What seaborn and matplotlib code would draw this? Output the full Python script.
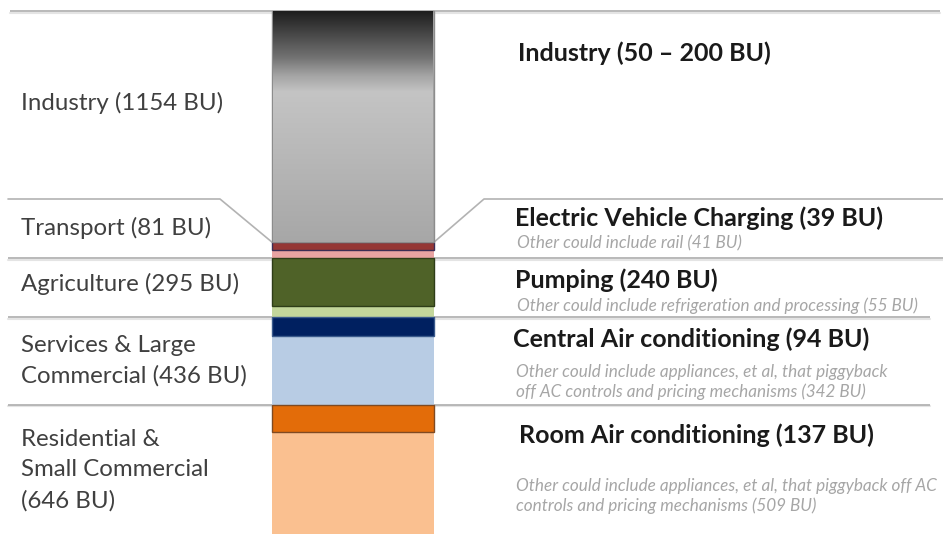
import numpy as np
import pandas as pd
import seaborn as sns
import matplotlib.pyplot as plt
from matplotlib.colors import LinearSegmentedColormap

# segments, bottom to top
segments = ["Other residential", "Room Air conditioning", "Other services",
            "Central Air conditioning", "Other agriculture", "Pumping",
            "Other transport", "Electric Vehicle Charging", "Industry"]
values = [509, 137, 342, 94, 55, 240, 41, 39, 1154]
colors = ["#fac090", "#e36c09", "#b8cce4", "#002060", "#c3d69b", "#4f6228",
          "#e8a3a2", "#953735", "#a6a6a6"]
edges = [None, "#7f4a22", None, "#3a5a8c", None, "#2e3d18", None, "#3b2d55", "#8c8c8c"]

left_labels = ["Residential &\nSmall Commercial\n(646 BU)",
               "Services & Large\nCommercial (436 BU)",
               "Agriculture (295 BU)", "Transport (81 BU)", "Industry (1154 BU)"]
right_labels = ["Room Air conditioning (137 BU)", "Central Air conditioning (94 BU)",
                "Pumping (240 BU)", "Electric Vehicle Charging (39 BU)",
                "Industry (50 \u2013 200 BU)"]
other_labels = ["Other could include appliances, et al, that piggyback off AC\ncontrols and pricing mechanisms (509 BU)",
                "Other could include appliances, et al, that piggyback\noff AC controls and pricing mechanisms (342 BU)",
                "Other could include refrigeration and processing (55 BU)",
                "Other could include rail (41 BU)"]

W, H = 943, 534
sns.set_theme(style="white")
plt.rcParams['font.family'] = ['Lato', 'DejaVu Sans']

fig = plt.figure(figsize=(W / 100, H / 100), dpi=100)
ax = fig.add_axes([0, 0, 1, 1])

df = pd.DataFrame({"segment": segments, "value": values})
df["top"] = df["value"].cumsum()
df["bottom"] = df["top"] - df["value"]
total = df["top"].iloc[-1]

# stacked bar: one seaborn bar per segment, then moved onto its base
for i in range(len(df)):
    ec = edges[i] if edges[i] else "none"
    lw = 1.0 if edges[i] else 0
    n = len(ax.patches)
    sns.barplot(x=["mix"], y=[df["value"].iloc[i]], color=colors[i], saturation=1,
                width=0.8, edgecolor=ec, linewidth=lw, errorbar=None, ax=ax)
    for p in ax.patches[n:]:
        p.set_y(df["bottom"].iloc[i])
        p.set_zorder(3 + (0.5 if edges[i] else 0))

# gradient fill on the industry block
ind_bottom = df["bottom"].iloc[-1]
grad = LinearSegmentedColormap.from_list(
    "ind", [(0, "#1e1e1e"), (0.2, "#727272"), (0.28, "#a5a5a5"),
            (0.35, "#c4c4c4"), (1, "#a7a7a7")])
ax.imshow(np.linspace(0, 1, 256).reshape(-1, 1), cmap=grad, aspect="auto",
          extent=(-0.395, 0.395, ind_bottom + 2, total), origin="upper", zorder=4)

px_per_unit = 202.5
cx = 353
ax.set_xlim(-cx / px_per_unit, (W - cx) / px_per_unit)
ax.set_ylim(0, total * H / 523)
ax.axis("off")


def xd(px):
    return (px - cx) / px_per_unit


def yd(py):
    return (H - py) * total / 523


def hline(x0, x1, y):
    ax.plot([xd(x0), xd(x1)], [y, y], color="#b3b3b3", lw=1.3, zorder=1,
            solid_capstyle="butt")
    ax.plot([xd(x0), xd(x1)], [y - 8, y - 8], color="#e4e4e4", lw=1.5, zorder=0.9)


# separator lines
hline(10, 940, total)
label_y = yd(199)
ax.plot([xd(8), xd(220), xd(272)], [label_y, label_y, ind_bottom], color="#b3b3b3", lw=1.2, zorder=1)
ax.plot([xd(434), xd(484), xd(943)], [ind_bottom, label_y, label_y], color="#b3b3b3", lw=1.2, zorder=1)
for b, xr in [(df["top"].iloc[5], 943), (df["top"].iloc[3], 930), (df["top"].iloc[1], 930)]:
    hline(8, xr, b)


def ftext(px, py, s, **kw):
    fig.text(px / W, 1 - py / H, s, va="center", ha="left", **kw)


# left labels
left_pos = [(21, 470), (21, 361), (21, 284), (21, 228), (21, 103)]
for (px, py), s in zip(left_pos, left_labels):
    ftext(px, py, s, fontsize=17.3, color="#404040", linespacing=1.55)

# right labels
right_pos = [(519, 435), (513, 339), (515, 280), (515, 218), (518, 53)]
for (px, py), s in zip(right_pos, right_labels):
    ftext(px, py, s, fontsize=18, fontweight="bold", color="#1a1a1a")

other_pos = [(516, 496), (516, 382), (517, 306), (517, 243)]
for (px, py), s in zip(other_pos, other_labels):
    ftext(px, py, s, fontsize=12.3, style="italic", color="#a6a6a6", linespacing=1.3)

fig.savefig("out.png", dpi=100)
